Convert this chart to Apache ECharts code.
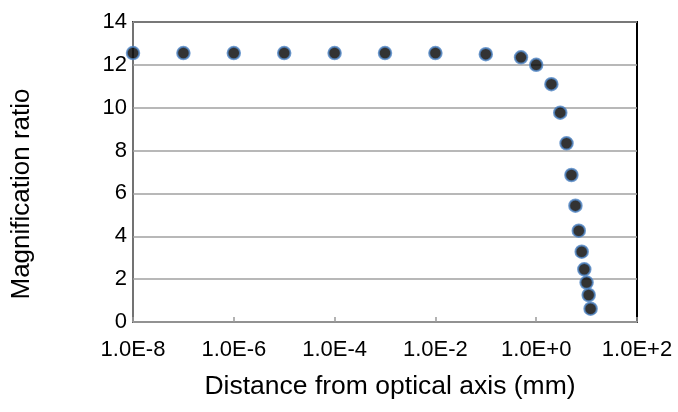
<!DOCTYPE html>
<html>
<head>
<meta charset="utf-8">
<script src="https://cdn.jsdelivr.net/npm/echarts@6/dist/echarts.min.js"></script>
<style>
  html, body { margin: 0; padding: 0; background: #fff; }
  #chart { width: 678px; height: 412px; }
</style>
</head>
<body>
<div id="chart"></div>
<script>
// Distance from the optical axis (mm) and the measured magnification ratio
const distanceMm = [1e-8, 1e-7, 1e-6, 1e-5, 1e-4, 1e-3, 1e-2, 1e-1,
                    0.5, 1, 2, 3, 4, 5, 6, 7, 8, 9, 10, 11, 12];
const magnification = [12.55, 12.55, 12.55, 12.55, 12.55, 12.55, 12.55, 12.5,
                       12.35, 12.0, 11.1, 9.77, 8.34, 6.86, 5.43, 4.26, 3.28, 2.46, 1.84, 1.26, 0.62];

// Decade ticks shown on the distance axis (every second power of ten)
const xTickValues = [1e-8, 1e-6, 1e-4, 1e-2, 1, 100];

const xTitle = 'Distance from optical axis (mm)';
const yTitle = 'Magnification ratio';

const FONT = '"Liberation Sans", Arial, sans-serif';

function sciLabel(v) {
  const e = Math.round(Math.log10(v));
  return '1.0E' + (e >= 0 ? '+' : '-') + Math.abs(e);
}

const points = distanceMm.map((d, i) => [d, magnification[i]]);

const chart = echarts.init(document.getElementById('chart'), null, { renderer: 'canvas' });
chart.setOption({
  animation: false,
  backgroundColor: '#fff',
  grid: {
    left: 133, right: 41, top: 22, bottom: 90,
    show: true, borderColor: '#000', borderWidth: 2, backgroundColor: 'transparent'
  },
  xAxis: {
    type: 'log',
    logBase: 10,
    min: 1e-8,
    max: 100,
    axisLine: { show: true, onZero: false, lineStyle: { color: '#9a9a9a', width: 1.5 } },
    axisTick: {
      show: true, inside: true, length: 5, customValues: xTickValues,
      lineStyle: { color: '#9a9a9a', width: 1.5 }
    },
    minorTick: { show: false },
    splitLine: { show: false },
    axisLabel: {
      customValues: xTickValues,
      showMinLabel: true, showMaxLabel: true,
      formatter: sciLabel,
      color: '#000', fontFamily: FONT, fontSize: 22, margin: 17
    }
  },
  yAxis: {
    type: 'value',
    min: 0, max: 14, interval: 2,
    axisLine: { show: true, lineStyle: { color: '#9a9a9a', width: 1.5 } },
    axisTick: { show: false },
    splitLine: { show: true, lineStyle: { color: '#a0a0a0', width: 1.5 } },
    axisLabel: { color: '#000', fontFamily: FONT, fontSize: 22, margin: 6 }
  },
  graphic: [
    {
      type: 'text', x: 390, y: 373,
      style: { text: xTitle, fill: '#000', font: '26.5px ' + FONT, textAlign: 'center', textVerticalAlign: 'top' }
    },
    {
      type: 'text', x: 9, y: 194, rotation: Math.PI / 2,
      style: { text: yTitle, fill: '#000', font: '26px ' + FONT, textAlign: 'center', textVerticalAlign: 'top' }
    }
  ],
  series: [{
    type: 'scatter',
    data: points,
    symbol: 'circle',
    symbolSize: 12.5,
    itemStyle: { color: '#000', borderColor: '#4f84c4', borderWidth: 2 },
    z: 5
  }]
});
</script>
</body>
</html>
